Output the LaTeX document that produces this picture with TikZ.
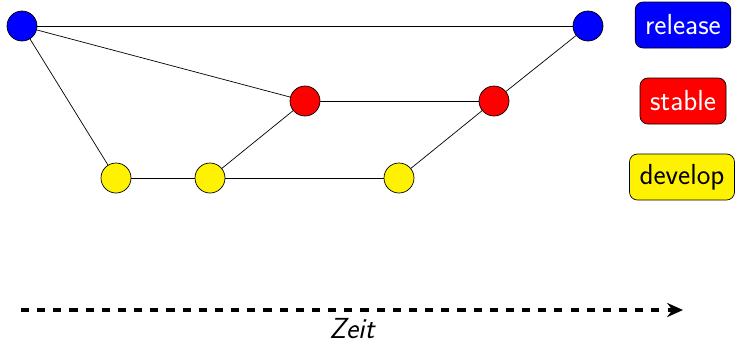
\documentclass[tikz,border=0pt]{standalone}
\usetikzlibrary{arrows.meta}
\begin{document}
\begin{tikzpicture}[x=0.02cm, y=-0.02cm,
  every node/.style={font=\sffamily\fontsize{16.5}{20}\selectfont},
  commit/.style={circle,draw,thin,minimum size=0.6cm,inner sep=0pt},
  branch/.style={draw,thin,rounded corners=4.5pt,minimum height=0.92cm,inner xsep=5.7pt,inner ysep=0pt}]
\useasboundingbox (0,0) rectangle (737,343);
\node[commit,fill=blue] (rel1) at (22,26) {};
\node[commit,fill=blue] (rel2) at (588,26) {};
\node[commit,fill=red] (stab1) at (305,101) {};
\node[commit,fill=red] (stab2) at (494,101) {};
\node[commit,fill=yellow] (dev1) at (116,178) {};
\node[commit,fill=yellow] (dev2) at (210,178) {};
\node[commit,fill=yellow] (dev3) at (399,178) {};
\draw (rel1) -- (rel2);
\draw (rel1) -- (stab1);
\draw (rel1) -- (dev1);
\draw (dev1) -- (dev2);
\draw (dev2) -- (stab1);
\draw (dev2) -- (dev3);
\draw (stab1) -- (stab2);
\draw (dev3) -- (stab2);
\draw (stab2) -- (rel2);
\node[branch,fill=blue,text=white] (lrel) at (683,25) {release};
\node[branch,fill=red,text=white] (lstab) at (683,101) {stable};
\node[branch,fill=yellow] (ldev) at (682,177) {develop};
\coordinate (tstart) at (21,310);
\coordinate (tend) at (683,310);
\draw[-{Stealth[length=9pt,width=8pt]},line width=2.2pt,dash pattern=on 4.6pt off 4.6pt] (tstart) -- (tend);
\node[font=\sffamily\itshape\fontsize{16.5}{20}\selectfont] (zeit) at (352,329) {Zeit};
\end{tikzpicture}
\end{document}
